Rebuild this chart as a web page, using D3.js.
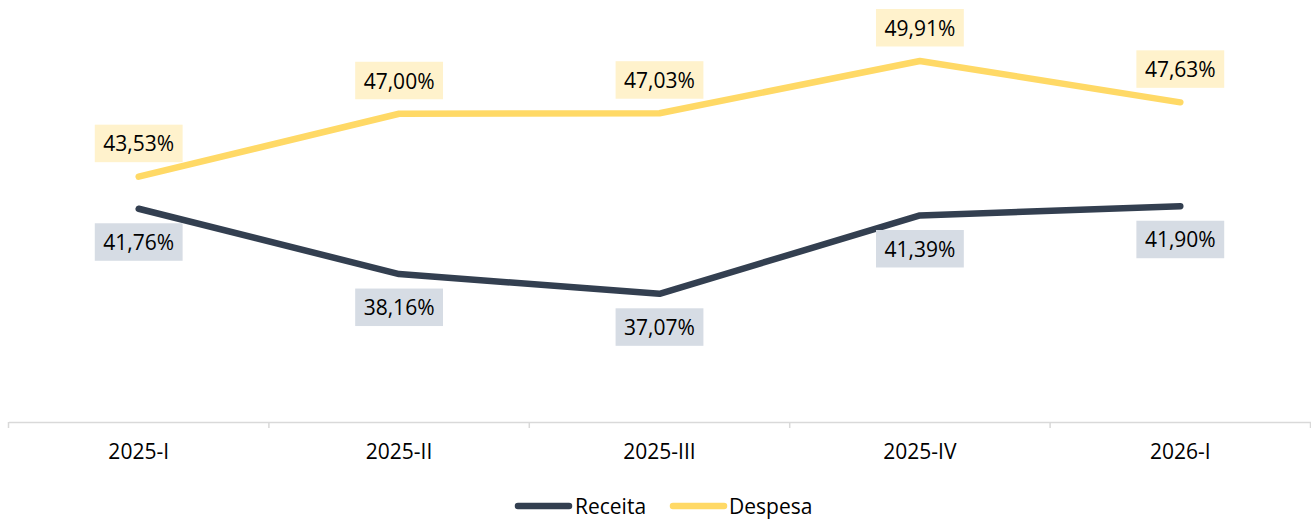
<!DOCTYPE html>
<html><head><meta charset="utf-8">
<script src="https://cdn.jsdelivr.net/npm/d3@7"></script>
<style>body{margin:0;background:#fff}svg{display:block}text{font-family:"Open Sans",sans-serif}</style>
</head><body><svg id="c" width="1311" height="519"></svg>
<script>
const categories = ["2025-I","2025-II","2025-III","2025-IV","2026-I"];
const receita = [41.76, 38.16, 37.07, 41.39, 41.90];
const despesa = [43.53, 47.00, 47.03, 49.91, 47.63];
const seriesNames = ["Receita","Despesa"];
const colors = {Receita:"#333F50", Despesa:"#FFD966"};
const labelBg = {Receita:"#D6DCE4", Despesa:"#FFF2CC"};

const svg = d3.select("#c");
const fs = 21;
const x = d3.scaleBand().domain(categories).range([8.5, 1310.5]).paddingInner(0).paddingOuter(0);
const y = d3.scaleLinear().domain([30, 52]).range([422, 23.1]);
const cx = d => x(d) + x.bandwidth()/2;

// axis
const ax = svg.append("g").attr("transform","translate(0,422)")
  .call(d3.axisBottom(x).tickSize(0).tickFormat(d=>d));
ax.select(".domain").attr("stroke","#D9D9D9").attr("stroke-width",1.5);
ax.selectAll(".tick text").attr("font-size",fs).attr("fill","#000").attr("dy","0").attr("y",37)
  .attr("font-family","Open Sans");
const bounds = [x(categories[0]),...categories.map(c=>x(c)+x.bandwidth())];
svg.append("g").selectAll("line").data(bounds).join("line")
  .attr("x1",d=>d).attr("x2",d=>d).attr("y1",422).attr("y2",428)
  .attr("stroke","#D9D9D9").attr("stroke-width",1.5);

const line = d3.line().x((d,i)=>cx(categories[i])).y(d=>y(d));
const data = {Receita: receita, Despesa: despesa};
seriesNames.forEach(n=>{
  svg.append("path").datum(data[n]).attr("d",line).attr("fill","none")
    .attr("stroke",colors[n]).attr("stroke-width",6.5)
    .attr("stroke-linecap","round").attr("stroke-linejoin","round");
});

// labels
const fmt = v => v.toFixed(2).replace(".",",")+"%";
seriesNames.forEach(n=>{
  data[n].forEach((v,i)=>{
    const px = cx(categories[i]), py = y(v);
    const h = 37.5;
    const top = n==="Despesa" ? py - 14.5 - h : py + 14.5;
    const g = svg.append("g");
    const t = g.append("text").attr("x",px).attr("y",top+h/2).attr("text-anchor","middle")
      .attr("dominant-baseline","central").attr("font-size",fs).attr("fill","#000").text(fmt(v));
    const bb = t.node().getBBox();
    g.insert("rect","text").attr("x",px-bb.width/2-8.5).attr("y",top)
      .attr("width",bb.width+17).attr("height",h).attr("fill",labelBg[n]);
  });
});

// legend
const leg = [{n:"Receita",x1:515,x2:572,tx:575},{n:"Despesa",x1:670,x2:727,tx:729}];
leg.forEach(l=>{
  svg.append("line").attr("x1",l.x1+3).attr("x2",l.x2-3).attr("y1",506).attr("y2",506)
    .attr("stroke",colors[l.n]).attr("stroke-width",6.5).attr("stroke-linecap","round");
  svg.append("text").attr("x",l.tx).attr("y",506).attr("dominant-baseline","central")
    .attr("font-size",fs).attr("fill","#000").text(l.n);
});
</script></body></html>
